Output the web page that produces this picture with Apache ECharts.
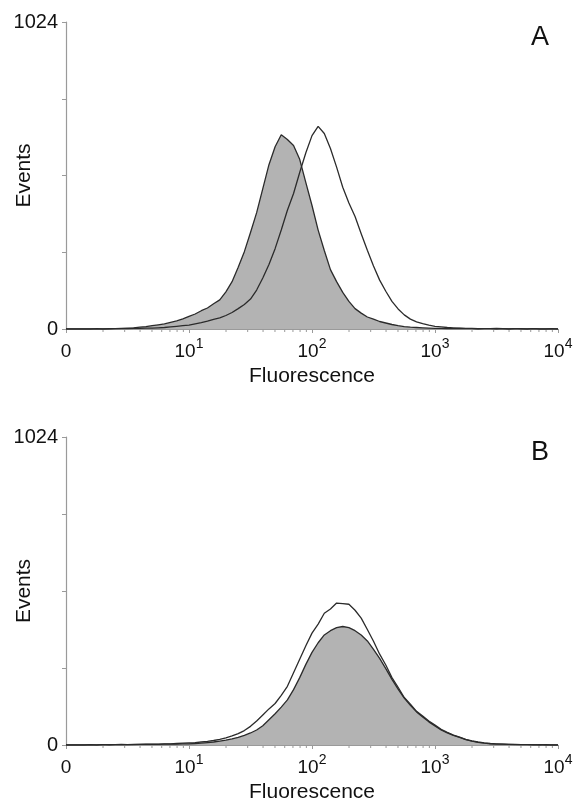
<!DOCTYPE html>
<html><head><meta charset="utf-8">
<script src="https://cdn.jsdelivr.net/npm/echarts@6/dist/echarts.min.js"></script>
<style>html,body{margin:0;padding:0;background:#fff}#c{width:577px;height:803px}</style>
</head><body><div id="c"></div>
<script>
// Histogram bins: log10(fluorescence) from 0 to 4, one bin every 0.05 decade
const logStep = 0.05;
// Panel A
const grayA = [0,0,0,0,0,1,0,1,1,2, 3,4,6,8,11,14,17,22,27,34, 42,50,61,70,84,97,124,158,206,258, 322,388,468,548,608,648,632,612,566,488, 412,330,262,198,158,122,92,68,53,40, 33,25,20,15,11,8,6,5,4,3, 2,2,1,1,2,1,1,0,1,1, 0,1,0,1,0,0,1,0,0,0,0];
const openA = [0,0,0,0,0,0,0,0,1,1, 1,2,2,3,3,4,5,7,9,11, 13,17,21,26,32,37,45,55,68,82, 100,130,170,215,268,330,396,452,522,588, 645,676,652,602,540,473,420,375,318,263, 210,163,126,92,67,47,33,24,18,13, 9,7,5,4,3,2,2,1,1,1, 2,1,0,1,1,0,1,0,0,1,0];
// Panel B
const grayB = [0,0,0,0,0,0,1,0,1,1, 1,1,2,2,2,2,3,3,3,4, 4,5,6,8,10,13,16,20,25,32, 40,50,64,84,104,126,150,184,224,268, 308,340,366,380,390,394,390,380,366,346, 318,288,254,218,186,156,132,110,93,77, 63,50,40,32,25,18,13,9,6,4, 3,3,2,1,1,1,0,1,0,0,0];
const openB = [0,0,0,0,1,0,1,1,1,2, 1,2,2,3,3,3,4,4,5,6, 7,8,10,12,15,19,24,30,38,48, 62,80,100,120,138,165,195,240,285,330, 372,402,438,452,472,470,468,448,422,384, 345,302,266,224,192,158,136,112,96,80, 66,52,42,33,26,19,14,10,7,5, 4,3,2,2,1,1,1,0,1,0,0];
// Axis tick labels
const xTickExp = ['', '1', '2', '3', '4'];
const yTickLabels = {0: '0', 1024: '1024'};
const panelLabels = ['A', 'B'];

const toPairs = arr => arr.map((v, i) => [+(i * logStep).toFixed(2), v]);
const minorTicks = [];
for (let d = 0; d < 4; d++) for (let k = 2; k <= 9; k++) minorTicks.push([d + Math.log10(k), 0]);

const FONT = '"Liberation Sans", Arial, Helvetica, sans-serif';
const AXIS_COLOR = '#9a9a9a';
const LINE_COLOR = '#2b2b2b';
const FILL = '#b3b3b3';

const gridsTop = [22, 437];
const gridsH = [307, 308];

function xAxisFor(i) {
  return {
    gridIndex: i, type: 'value', min: 0, max: 4, interval: 1,
    name: 'Fluorescence', nameLocation: 'middle', nameGap: 37, nameMoveOverlap: false,
    nameTextStyle: {fontFamily: FONT, fontSize: 21, color: '#111'},
    axisLine: {show: true, onZero: false, lineStyle: {color: AXIS_COLOR, width: 1.2}},
    axisTick: {show: true, length: 4, lineStyle: {color: AXIS_COLOR}},
    splitLine: {show: false},
    axisLabel: {
      margin: 8, fontFamily: FONT, color: '#111',
      formatter: v => { const k = Math.round(v); return k === 0 ? '{b|0}' : '{b|10}{s|' + xTickExp[k] + '}'; },
      rich: {
        b: {fontFamily: FONT, fontSize: 19, color: '#111', lineHeight: 24, verticalAlign: 'bottom'},
        s: {fontFamily: FONT, fontSize: 14, color: '#111', lineHeight: 24, verticalAlign: 'top'}
      }
    }
  };
}
function yAxisFor(i) {
  return {
    gridIndex: i, type: 'value', min: 0, max: 1024, interval: 256,
    name: 'Events', nameLocation: 'middle', nameGap: 31, nameMoveOverlap: false,
    nameTextStyle: {fontFamily: FONT, fontSize: 21, color: '#111'},
    axisLine: {show: true, lineStyle: {color: AXIS_COLOR, width: 1.2}},
    axisTick: {show: true, length: 4, lineStyle: {color: AXIS_COLOR}},
    splitLine: {show: false},
    axisLabel: {margin: 8, fontFamily: FONT, fontSize: 20, color: '#111',
      formatter: v => yTickLabels[v] !== undefined ? yTickLabels[v] : ''}
  };
}
function lineSeries(i, data, filled) {
  const s = {
    type: 'line', xAxisIndex: i, yAxisIndex: i, data: toPairs(data),
    symbol: 'none', smooth: false, z: filled ? 2 : 3,
    lineStyle: {color: LINE_COLOR, width: 1.3}
  };
  if (filled) s.areaStyle = {color: FILL, opacity: 1};
  return s;
}
function tickSeries(i) {
  return {
    type: 'custom', xAxisIndex: i, yAxisIndex: i, data: minorTicks, z: 1, silent: true,
    renderItem: (params, api) => {
      const p = api.coord([api.value(0), 0]);
      return {type: 'line', shape: {x1: p[0], y1: p[1], x2: p[0], y2: p[1] + 3},
        style: {stroke: AXIS_COLOR, lineWidth: 1}};
    }
  };
}

const chart = echarts.init(document.getElementById('c'), null, {renderer: 'canvas'});
chart.setOption({
  backgroundColor: '#fff',
  animation: false,
  title: panelLabels.map((t, i) => ({text: t, left: 526, top: gridsTop[i] - 3,
    textStyle: {fontFamily: FONT, fontSize: 27, fontWeight: 'normal', color: '#111'}})),
  grid: [0, 1].map(i => ({left: 66, width: 492, top: gridsTop[i], height: gridsH[i],
    containLabel: false, outerBoundsMode: 'none'})),
  xAxis: [xAxisFor(0), xAxisFor(1)],
  yAxis: [yAxisFor(0), yAxisFor(1)],
  series: [
    lineSeries(0, grayA, true), lineSeries(0, openA, false), tickSeries(0),
    lineSeries(1, grayB, true), lineSeries(1, openB, false), tickSeries(1)
  ]
});
</script></body></html>
